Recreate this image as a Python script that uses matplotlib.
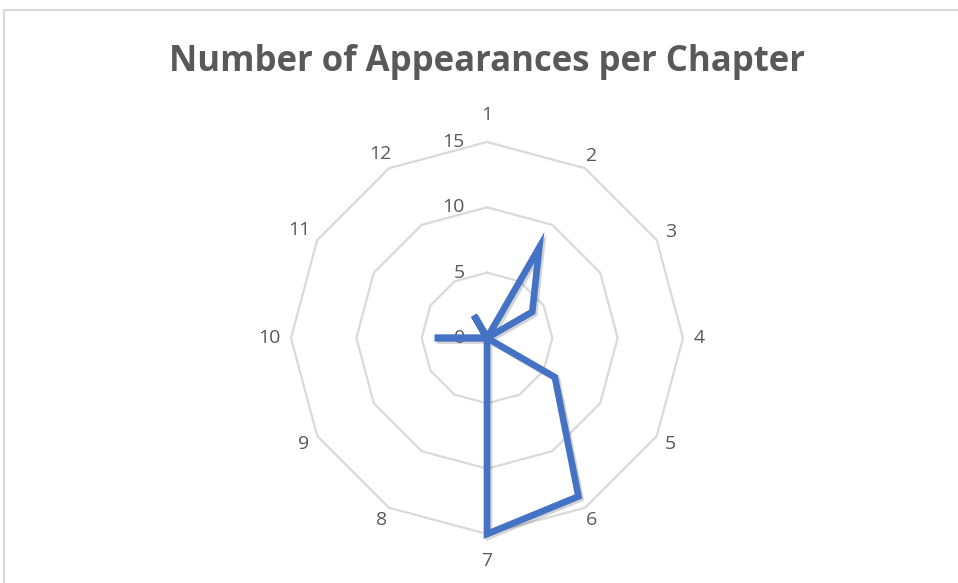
import numpy as np
import matplotlib
matplotlib.use("Agg")
import matplotlib.pyplot as plt
import matplotlib.patheffects as pe
from matplotlib.patches import Rectangle

# Chapter categories and appearance counts
chapters = ["1", "2", "3", "4", "5", "6", "7", "8", "9", "10", "11", "12"]
appearances = [0, 8, 4, 0, 6, 14, 15, 0, 0, 4, 0, 2]
ring_values = [0, 5, 10, 15]
title = "Number of Appearances per Chapter"

W, H, DPI = 958, 583, 100
fig = plt.figure(figsize=(W / DPI, H / DPI), dpi=DPI)
fig.patch.set_facecolor("white")

# chart-area border (top and left edges visible)
fig.add_artist(Rectangle((4 / W, -0.05), 1.1, 1.05 - 10 / H,
                         transform=fig.transFigure, fill=False,
                         edgecolor="#d9d9d9", linewidth=1.5))

cx, cy, R = 487, 338, 196
ax = fig.add_axes([(cx - R) / W, (H - cy - R) / H, 2 * R / W, 2 * R / H],
                  projection="polar")
ax.set_theta_zero_location("N")
ax.set_theta_direction(-1)
ax.set_ylim(0, 15)
ax.grid(False)
ax.spines["polar"].set_visible(False)
ax.set_xticks([])
ax.set_yticks([])
ax.patch.set_alpha(0)

n = len(chapters)
angles = np.arange(n) * 2 * np.pi / n
closed = np.append(angles, angles[0])

grid_color = "#d9d9d9"
text_color = "#595959"
label_size = 14

# polygon rings
for rv in ring_values[1:]:
    ax.plot(closed, [rv] * (n + 1), color=grid_color, lw=1.6, zorder=1,
            clip_on=False)

# data series
vals = np.append(appearances, appearances[0])
ax.plot(closed, vals, color="#4472C4", lw=4.8, solid_joinstyle="miter",
        zorder=3, clip_on=False,
        path_effects=[pe.SimpleLineShadow(offset=(1.5, -1.5), alpha=0.25,
                                          shadow_color="#555555"),
                      pe.Normal()])

# category labels, pushed out past the outer ring by their own extent
px_per_unit = R / ring_values[-1]
for a, lab in zip(angles, chapters):
    half_w = 5.5 * len(lab)
    dist_px = 207 + half_w * abs(np.sin(a)) + 16 * abs(np.cos(a)) ** 30
    ax.text(a, dist_px / px_per_unit, lab, ha="center", va="center",
            fontsize=label_size, color=text_color, family="Open Sans",
            clip_on=False)

# ring value labels
for rv in ring_values:
    ax.annotate(str(rv), xy=(0, rv), xytext=(-16, 0),
                textcoords="offset points", ha="right", va="center",
                fontsize=label_size, color=text_color, family="Open Sans",
                annotation_clip=False, zorder=2)

fig.text(487 / W, 1 - 62 / H, title, ha="center", va="center",
         fontsize=25, fontweight="bold", color=text_color, family="Open Sans")

fig.savefig("out.png", dpi=DPI)
